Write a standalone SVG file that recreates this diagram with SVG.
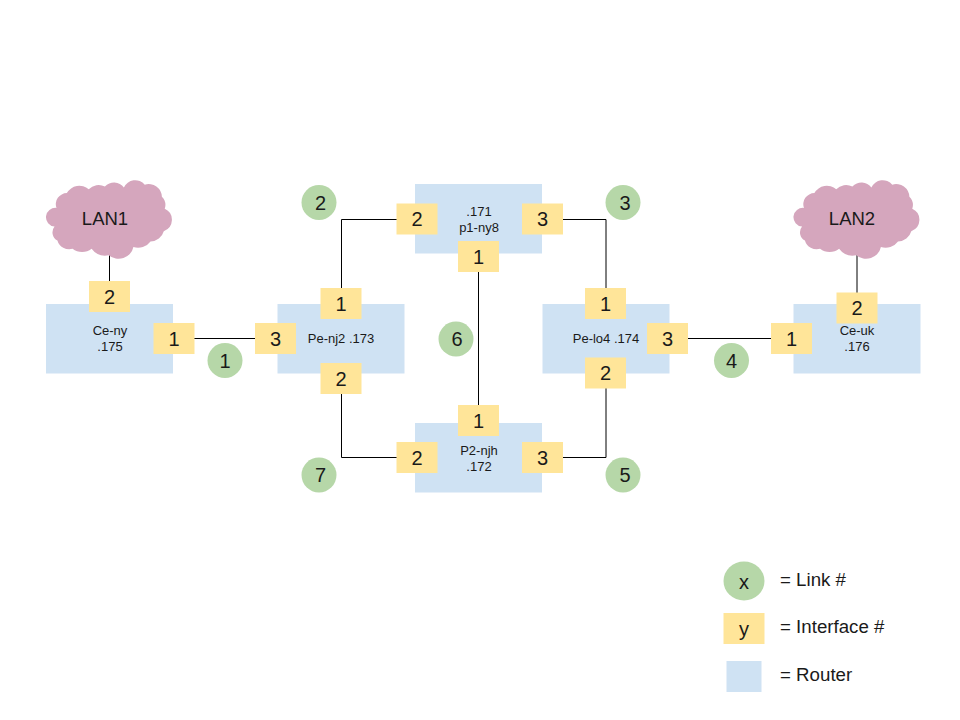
<svg xmlns="http://www.w3.org/2000/svg" width="960" height="720" viewBox="0 0 960 720">
<style>
text{font-family:"Liberation Sans",Arial,sans-serif;text-anchor:middle;fill:#1a1a1a}
.r{fill:#cfe2f3}
.i{fill:#ffe599}
.l{fill:#b6d7a8}
.c{fill:#d5a6bd}
.n{font-size:20px}
.t{font-size:13px}
.g{font-size:18.700px;text-anchor:start}
.w{fill:none;stroke:#000;stroke-width:1}
</style>
<defs>
<rect id="ib" class="i" x="-20.500" y="-15.500" width="41" height="31"/>
<path id="cl" class="c" d="M5 47A10 10 0 0 1 7 27A12 12 0 0 1 18 11A15 15 0 0 1 41 7A14 14 0 0 1 58 4A13 13 0 0 1 78 5A13 13 0 0 1 100 2A14 14 0 0 1 118 15A13 13 0 0 1 121 28A13 13 0 0 1 120 52A15 15 0 0 1 106 63A16 16 0 0 1 88 69A16 16 0 0 1 62 78A18 18 0 0 1 44 71A16 16 0 0 1 24 71A13 13 0 0 1 8 62A10 10 0 0 1 5 47Z"/>
</defs>
<rect width="960" height="720" fill="#fff"/>
<g id="connectors" class="w">
<path d="M109.500 255V282"/>
<path d="M194 338.500H256"/>
<path d="M341.500 289V219.500H397"/>
<path d="M563 219.500H606V289"/>
<path d="M341.500 392V457.500H397"/>
<path d="M563 457.500H606V387"/>
<path d="M478.500 270V405"/>
<path d="M688 338.500H772"/>
<path d="M857 255V293"/>
</g>
<g id="lan1"><use href="#cl" transform="translate(49.800 182.800) scale(.95 .93)"/><text x="105" y="225" font-size="18.500">LAN1</text></g>
<g id="lan2"><use href="#cl" transform="translate(797.300 182.800) scale(.95 .93)"/><text x="852" y="225" font-size="18.500">LAN2</text></g>
<g id="ce-ny"><rect class="r" x="46" y="304" width="127" height="69.500"/>
<text class="t" x="110" y="335">Ce-ny</text><text class="t" x="110" y="351">.175</text>
<use href="#ib" x="109.500" y="296.500"/><text class="n" x="109.500" y="303.500">2</text>
<use href="#ib" x="174" y="338.500"/><text class="n" x="174" y="345.500">1</text></g>
<g id="pe-nj2"><rect class="r" x="277.500" y="304" width="127" height="69.500"/>
<text class="t" x="341" y="343">Pe-nj2 .173</text>
<use href="#ib" x="341" y="303.500"/><text class="n" x="341" y="310.500">1</text>
<use href="#ib" x="275.500" y="338.500"/><text class="n" x="275.500" y="345.500">3</text>
<use href="#ib" x="341" y="378.500"/><text class="n" x="341" y="385.500">2</text></g>
<g id="p1-ny8"><rect class="r" x="415" y="184" width="127" height="69.500"/>
<text class="t" x="479" y="216">.171</text><text class="t" x="479" y="232">p1-ny8</text>
<use href="#ib" x="417" y="219"/><text class="n" x="417" y="226">2</text>
<use href="#ib" x="542.500" y="219"/><text class="n" x="542.500" y="226">3</text>
<use href="#ib" x="478.500" y="256.500"/><text class="n" x="478.500" y="264">1</text></g>
<g id="p2-njh"><rect class="r" x="415" y="423" width="127" height="69.500"/>
<text class="t" x="479" y="455">P2-njh</text><text class="t" x="479" y="471">.172</text>
<use href="#ib" x="478.500" y="420.500"/><text class="n" x="478.500" y="427.500">1</text>
<use href="#ib" x="417" y="457.500"/><text class="n" x="417" y="464.500">2</text>
<use href="#ib" x="542.500" y="457.500"/><text class="n" x="542.500" y="464.500">3</text></g>
<g id="pe-lo4"><rect class="r" x="542.500" y="304" width="127" height="69.500"/>
<text class="t" x="606" y="343">Pe-lo4 .174</text>
<use href="#ib" x="605.500" y="303.500"/><text class="n" x="605.500" y="310.500">1</text>
<use href="#ib" x="667.500" y="338.500"/><text class="n" x="667.500" y="345.500">3</text>
<use href="#ib" x="605.500" y="373"/><text class="n" x="605.500" y="380">2</text></g>
<g id="ce-uk"><rect class="r" x="793.500" y="304" width="127" height="69.500"/>
<text class="t" x="857" y="335">Ce-uk</text><text class="t" x="857" y="351">.176</text>
<use href="#ib" x="857" y="308"/><text class="n" x="857" y="315">2</text>
<use href="#ib" x="791.500" y="338.500"/><text class="n" x="791.500" y="345.500">1</text></g>
<g id="link1"><circle class="l" cx="225" cy="360.500" r="17.500"/><text class="n" x="225" y="367.500">1</text></g>
<g id="link2"><circle class="l" cx="319" cy="202.500" r="17.500"/><text class="n" x="320.500" y="209.500">2</text></g>
<g id="link3"><circle class="l" cx="623" cy="202.500" r="17.500"/><text class="n" x="625" y="209.500">3</text></g>
<g id="link4"><circle class="l" cx="731.500" cy="360.500" r="17.500"/><text class="n" x="731.500" y="367.500">4</text></g>
<g id="link5"><circle class="l" cx="623" cy="475" r="17.500"/><text class="n" x="625" y="482">5</text></g>
<g id="link6"><circle class="l" cx="456" cy="339" r="17.500"/><text class="n" x="457" y="346">6</text></g>
<g id="link7"><circle class="l" cx="319" cy="475" r="17.500"/><text class="n" x="320.500" y="482">7</text></g>
<g id="legend-link"><ellipse class="l" cx="744" cy="581" rx="20.500" ry="19.500"/><text class="n" x="744" y="589">x</text><text class="g" x="780" y="586">= Link #</text></g>
<g id="legend-interface"><rect class="i" x="723.500" y="613" width="41" height="31"/><text class="n" x="744" y="636">y</text><text class="g" x="780" y="633">= Interface #</text></g>
<g id="legend-router"><rect class="r" x="726.500" y="661" width="35" height="31"/><text class="g" x="780" y="681">= Router</text></g>
</svg>
